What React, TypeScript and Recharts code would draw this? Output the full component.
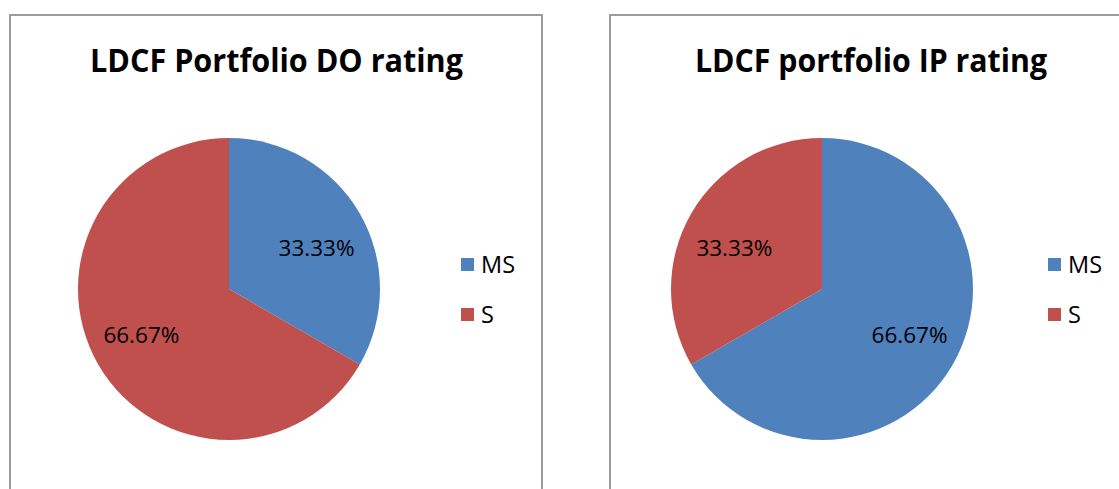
import { PieChart, Pie, Cell, Legend } from "recharts";

const CATEGORIES = ["MS", "S"];
const DO_VALUES = [1, 2];
const IP_VALUES = [2, 1];
const COLORS = ["#4F81BD", "#C0504D"];

const RAD = Math.PI / 180;

function buildData(values: number[]) {
  return CATEGORIES.map((name, i) => ({ name, value: values[i] }));
}

// Excel-like data labels: inside the slice, a bit flattened vertically
function renderLabel(props: any) {
  const { cx, cy, midAngle, outerRadius, percent } = props;
  const x = cx + outerRadius * 0.67 * Math.cos(-midAngle * RAD);
  const y = cy + outerRadius * 0.58 * Math.sin(-midAngle * RAD) + 2;
  return (
    <text
      x={x}
      y={y}
      textAnchor="middle"
      dominantBaseline="central"
      fill="#000"
      fontFamily="'Open Sans', sans-serif"
      fontSize={22.5}
    >
      {`${((percent ?? 0) * 100).toFixed(2)}%`}
    </text>
  );
}

function LegendBox({ payload }: any) {
  return (
    <div>
      {(payload ?? []).map((entry: any) => (
        <div
          key={entry.value}
          style={{ display: "flex", alignItems: "center", height: 50 }}
        >
          <span
            style={{
              width: 13,
              height: 13,
              background: entry.color,
              display: "inline-block",
              marginRight: 7,
            }}
          />
          <span style={{ fontFamily: "'Open Sans', sans-serif", fontSize: 23.5, color: "#000" }}>
            {entry.value}
          </span>
        </div>
      ))}
    </div>
  );
}

function RatingPie({
  title,
  values,
  left,
  cx,
  titleX,
  titleWidth,
  legendX,
}: {
  title: string;
  values: number[];
  left: number;
  cx: number;
  titleX: number;
  titleWidth: number;
  legendX: number;
}) {
  const data = buildData(values);
  return (
    <div
      style={{
        position: "absolute",
        left,
        top: 14,
        width: 534,
        height: 500,
        border: "2px solid #9c9c9c",
        boxSizing: "border-box",
        background: "#fff",
      }}
    >
      <PieChart width={530} height={496} margin={{ top: 0, right: 0, bottom: 0, left: 0 }}>
        <text
          x={titleX}
          y={56}
          textAnchor="middle"
          fontFamily="'Open Sans', sans-serif"
          fontWeight="bold"
          fontSize={33}
          textLength={titleWidth}
          lengthAdjust="spacingAndGlyphs"
          fill="#000"
        >
          {title}
        </text>
        <Pie
          data={data}
          dataKey="value"
          nameKey="name"
          cx={cx}
          cy={273}
          outerRadius={151}
          startAngle={90}
          endAngle={-270}
          stroke="none"
          labelLine={false}
          label={renderLabel}
          isAnimationActive={false}
        >
          {data.map((entry, i) => (
            <Cell key={entry.name} fill={COLORS[i]} />
          ))}
        </Pie>
        <Legend
          layout="vertical"
          content={<LegendBox />}
          wrapperStyle={{ position: "absolute", left: legendX, top: 223, width: 90 }}
        />
      </PieChart>
    </div>
  );
}

export default function App() {
  return (
    <div
      style={{
        position: "fixed",
        left: 0,
        top: 0,
        width: 1119,
        height: 489,
        overflow: "hidden",
        background: "#fff",
      }}
    >
      <RatingPie
        title="LDCF Portfolio DO rating"
        values={DO_VALUES}
        left={9}
        cx={218}
        titleX={265.5}
        titleWidth={373}
        legendX={450}
      />
      <RatingPie
        title="LDCF portfolio IP rating"
        values={IP_VALUES}
        left={609}
        cx={211}
        titleX={260}
        titleWidth={352}
        legendX={437}
      />
    </div>
  );
}
